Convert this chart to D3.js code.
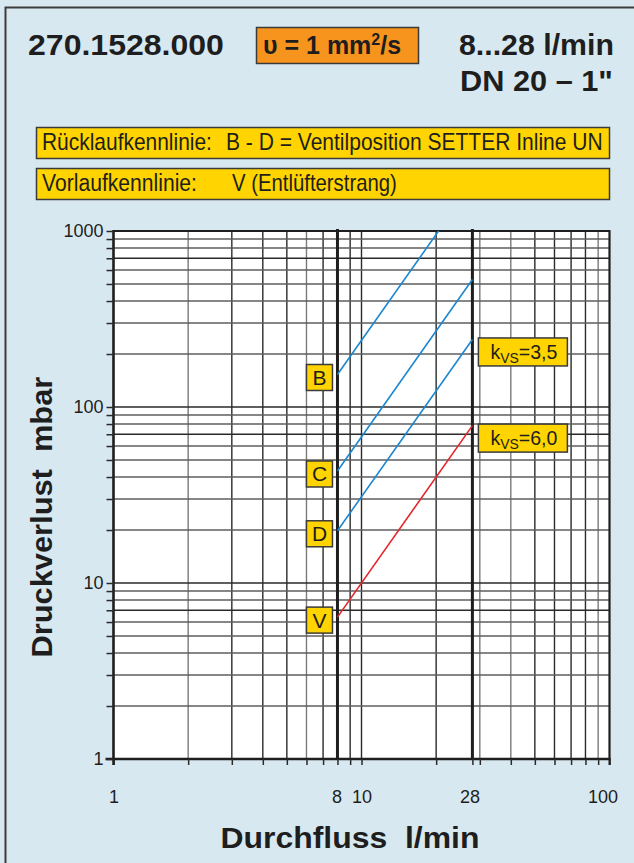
<!DOCTYPE html>
<html>
<head>
<meta charset="utf-8">
<script src="https://cdn.jsdelivr.net/npm/d3@7/dist/d3.min.js"></script>
<style>
  html, body { margin: 0; padding: 0; background: #d8e8f1; }
  svg { display: block; }
  text { font-family: "Liberation Sans", Arial, Helvetica, sans-serif; fill: #1e1e1e; white-space: pre; }
</style>
</head>
<body>
<svg id="chart" width="634" height="863"></svg>
<script>
// Flow range of the valve (l/min) and pressure loss at both ends (mbar)
const flow = [8, 28];
const lineB = [153, 1874];
const lineC = [43.3, 530];
const lineD = [19.8, 242];
const lineV = [6.4, 78.4];

const seriesNames = ["B", "C", "D", "V"];
const seriesValues = [lineB, lineC, lineD, lineV];
const seriesColors = ["#1b87cf", "#1b87cf", "#1b87cf", "#e3262b"];

// kvs annotations: attached to the end of a series
const kvsSeries = ["D", "V"];
const kvsValues = ["3,5", "6,0"];

// Axis labelling
const xTickLabels = [1, 8, 10, 28, 100];
const yTickLabels = [1, 10, 100, 1000];
const xGrid = [1,2,3,4,5,6,7,8,9,10,20,30,40,50,60,70,80,90,100];
const yGrid = [];
[1, 10, 100].forEach(d => { for (let k = 1; k <= 9; k++) yGrid.push(d * k); });
yGrid.push(1000);
const markerFlows = [8, 28];

const svg = d3.select("#chart");
const W = 634, H = 863;
const FONT = "Liberation Sans, Arial, sans-serif";

// Text squeezed horizontally to a given width (condensed look)
function fitText(parent, str, x, y, width, size, opts = {}) {
  const g = parent.append("g");
  const t = g.append("text").attr("font-size", size)
    .attr("font-weight", opts.bold ? "bold" : null).text(str);
  const natural = t.node().getComputedTextLength();
  const sx = width / natural;
  let x0 = x;
  if (opts.anchor === "end") x0 = x - width;
  else if (opts.anchor === "middle") x0 = x - width / 2;
  const rot = opts.rotate ? ` rotate(${opts.rotate})` : "";
  if (opts.rotate) {
    g.attr("transform", `translate(${x},${y})${rot} translate(${-width / 2},0) scale(${sx},1)`);
  } else {
    g.attr("transform", `translate(${x0},${y}) scale(${sx},1)`);
  }
  return t;
}

svg.append("rect").attr("width", W).attr("height", H).attr("fill", "#d8e8f1");
// frame (left and top edges)
svg.append("path").attr("d", `M5.5,${H} V7.5 H${W}`).attr("fill", "none")
  .attr("stroke", "#3c3c3c").attr("stroke-width", 2);

// Header
fitText(svg, "270.1528.000", 28, 55, 196, 29, { bold: true });

svg.append("rect").attr("x", 256.5).attr("y", 27.5).attr("width", 162).attr("height", 36)
  .attr("fill", "#f7941d").attr("stroke", "#3a3a3a").attr("stroke-width", 1.5);
const nu = svg.append("text").attr("x", 263).attr("y", 54)
  .attr("font-size", 25).attr("font-weight", "bold");
nu.append("tspan").text("υ = 1 mm");
nu.append("tspan").attr("font-size", 16).attr("dy", -9).text("2");
nu.append("tspan").attr("dy", 9).text("/s");

fitText(svg, "8...28 l/min", 614, 55, 155, 29, { bold: true, anchor: "end" });
fitText(svg, "DN 20 – 1\"", 613, 91, 153, 29, { bold: true, anchor: "end" });

// Legend boxes
const legendRows = [
  { y: 127, parts: [["Rücklaufkennlinie:", 42, 170], ["B - D = Ventilposition SETTER Inline UN", 226, 377]] },
  { y: 168, parts: [["Vorlaufkennlinie:", 42, 155], ["V (Entlüfterstrang)", 232, 165]] }
];
legendRows.forEach(r => {
  svg.append("rect").attr("x", 36.5).attr("y", r.y + 0.5).attr("width", 573).attr("height", 31)
    .attr("fill", "#ffd400").attr("stroke", "#3a3a3a").attr("stroke-width", 1.5);
  r.parts.forEach(([t, x, len]) => fitText(svg, t, x, r.y + 23, len, 23));
});

// Scales
const x = d3.scaleLog().domain([1, 100]).range([113.5, 609.5]);
const y = d3.scaleLog().domain([1, 1000]).range([759, 231]);

const plot = svg.append("g");
plot.append("rect").attr("x", x(1)).attr("y", y(1000))
  .attr("width", x(100) - x(1)).attr("height", y(1) - y(1000)).attr("fill", "#ffffff");

// Grid
const darkX = new Set([1, 3, 4, 5, 7, 9, 10, 20, 50, 60, 70, 80, 100]);
plot.selectAll("line.gx").data(xGrid).join("line").attr("class", "gx")
  .attr("x1", d => x(d)).attr("x2", d => x(d))
  .attr("y1", y(1000)).attr("y2", y(1))
  .attr("stroke", d => darkX.has(d) ? "#2a2a2a" : "#7a7a7a")
  .attr("stroke-width", 1.4);
const darkY = new Set([1, 7, 10, 70, 100, 700, 1000]);
plot.selectAll("line.gy").data(yGrid).join("line").attr("class", "gy")
  .attr("x1", x(1)).attr("x2", x(100))
  .attr("y1", d => y(d)).attr("y2", d => y(d))
  .attr("stroke", d => darkY.has(d) ? "#2a2a2a" : "#5e5e5e")
  .attr("stroke-width", 1.4);

// Operating range limits
plot.selectAll("line.mk").data(markerFlows).join("line").attr("class", "mk")
  .attr("x1", d => x(d)).attr("x2", d => x(d))
  .attr("y1", y(1000) - 2).attr("y2", y(1))
  .attr("stroke", "#1e1e1e").attr("stroke-width", 3);

// Axes
const xAxis = d3.axisBottom(x).tickValues(xGrid.concat([28])).tickSize(6).tickSizeOuter(0)
  .tickPadding(25)
  .tickFormat(d => xTickLabels.includes(d) ? d : "");
const gx = svg.append("g").attr("transform", `translate(0,${y(1)})`).call(xAxis);
gx.select(".domain").attr("stroke", "#1e1e1e").attr("stroke-width", 2.5)
  .attr("d", `M${x(1) - 8},0H${x(100) + 1}`);
gx.selectAll(".tick line").attr("stroke", "#2a2a2a").attr("stroke-width", 1.5);
gx.selectAll(".tick text").attr("font-size", 18).attr("fill", "#1e1e1e")
  .attr("font-family", FONT);
gx.selectAll(".tick").filter(d => d === 100).select("text").attr("dx", -7);
gx.selectAll(".tick").filter(d => d === 8).select("text").attr("dx", -1);
gx.selectAll(".tick").filter(d => d === 28).select("text").attr("dx", -3);

const yAxis = d3.axisLeft(y).tickValues(yGrid).tickSize(7).tickSizeOuter(0).tickPadding(3)
  .tickFormat(d => yTickLabels.includes(d) ? d : "");
const gy = svg.append("g").attr("transform", `translate(${x(1)},0)`).call(yAxis);
gy.select(".domain").attr("stroke", "#1e1e1e").attr("stroke-width", 2.5)
  .attr("d", `M0,${y(1000) - 1}V${y(1) + 6}`);
gy.selectAll(".tick line").attr("stroke", "#2a2a2a").attr("stroke-width", 1.5);
gy.selectAll(".tick text").attr("font-size", 18).attr("fill", "#1e1e1e")
  .attr("font-family", FONT);

// top and right borders of the plot
svg.append("path").attr("d", `M${x(1)},${y(1000)}H${x(100)}V${y(1) + 6}`)
  .attr("fill", "none").attr("stroke", "#1e1e1e").attr("stroke-width", 2);

// Characteristic curves (straight on log-log), clipped to the plot area
svg.append("clipPath").attr("id", "plotClip").append("rect")
  .attr("x", x(1)).attr("y", y(1000)).attr("width", x(100) - x(1)).attr("height", y(1) - y(1000));

const lineGen = d3.line().x(d => x(d[0])).y(d => y(d[1]));
const curves = svg.append("g").attr("clip-path", "url(#plotClip)");
seriesNames.forEach((name, i) => {
  const pts = flow.map((q, j) => [q, seriesValues[i][j]]);
  curves.append("path").datum(pts).attr("d", lineGen)
    .attr("fill", "none").attr("stroke", seriesColors[i]).attr("stroke-width", 1.6);
});

// Curve letters at the start of each line
seriesNames.forEach((name, i) => {
  const cy = y(seriesValues[i][0]) + 3;
  const bx = x(flow[0]) - 31;
  svg.append("rect").attr("x", bx).attr("y", cy - 13).attr("width", 26).attr("height", 26)
    .attr("fill", "#ffd400").attr("stroke", "#3a3a3a").attr("stroke-width", 1.5);
  svg.append("text").attr("x", bx + 13).attr("y", cy + 7.5).attr("text-anchor", "middle")
    .attr("font-size", 21).text(name);
});

// kvs annotations at the end of D and V
kvsSeries.forEach((name, k) => {
  const i = seriesNames.indexOf(name);
  const top = y(seriesValues[i][1]) - 1.5;
  const bx = x(flow[1]) + 6;
  svg.append("rect").attr("x", bx).attr("y", top).attr("width", 89).attr("height", 28)
    .attr("fill", "#ffd400").attr("stroke", "#3a3a3a").attr("stroke-width", 1.5);
  const t = svg.append("text").attr("x", bx + 12).attr("y", top + 21).attr("font-size", 21)
    .attr("textLength", 67).attr("lengthAdjust", "spacingAndGlyphs");
  t.append("tspan").text("k");
  t.append("tspan").attr("font-size", 15).attr("dy", 4).text("VS");
  t.append("tspan").attr("dy", -4).text("=" + kvsValues[k]);
});

// Axis titles
fitText(svg, "Durchfluss\u00a0\u00a0l/min", 350, 848, 259, 29, { bold: true, anchor: "middle" });
fitText(svg, "Druckverlust\u00a0\u00a0mbar", 52, 517, 281, 29, { bold: true, rotate: -90 });
</script>
</body>
</html>
